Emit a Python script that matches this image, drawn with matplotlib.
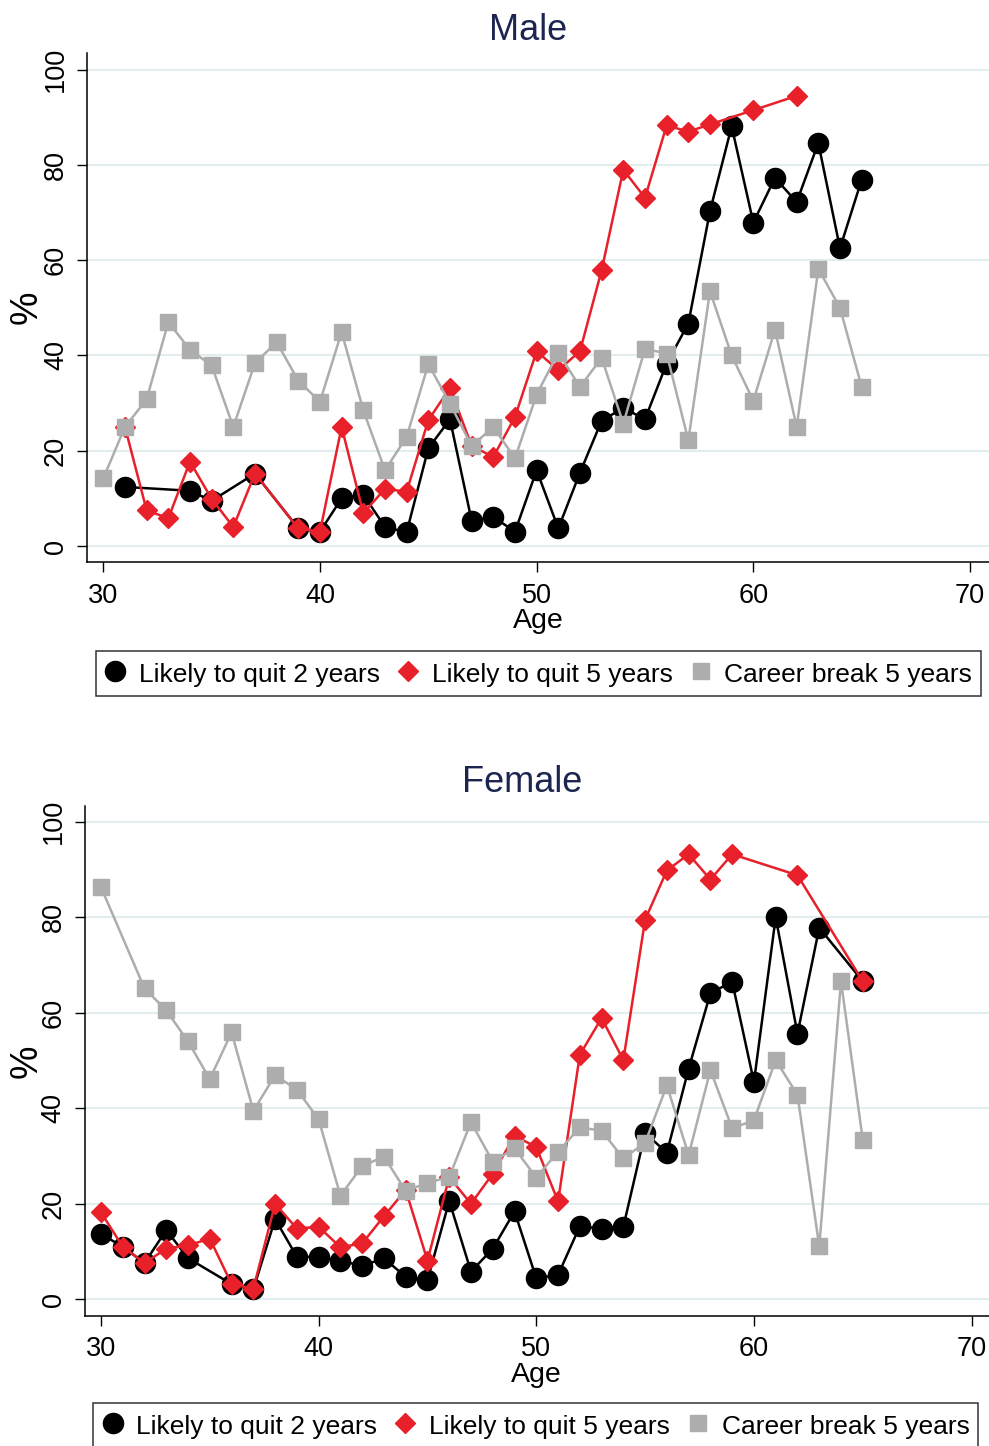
import matplotlib
matplotlib.use("Agg")
import matplotlib.pyplot as plt
from matplotlib.lines import Line2D

# ==============================
# Datos
# ==============================
male_q2_age = [31, 34, 35, 37, 39, 40, 41, 42, 43, 44, 45, 46, 47, 48, 49,
               50, 51, 52, 53, 54, 55, 56, 57, 58, 59, 60, 61, 62, 63, 64, 65]
male_q2 = [12.4, 11.6, 9.5, 15.2, 3.7, 3.0, 10.0, 10.8, 4.0, 2.9, 20.5, 26.6, 5.3, 6.1, 3.0,
           15.9, 3.7, 15.4, 26.3, 29.0, 26.6, 38.3, 46.7, 70.3, 88.1, 67.9, 77.3, 72.2, 84.6, 62.5, 76.9]

male_q5_age = [31, 32, 33, 34, 35, 36, 37, 39, 40, 41, 42, 43, 44, 45, 46, 47, 48, 49,
               50, 51, 52, 53, 54, 55, 56, 57, 58, 60, 62]
male_q5 = [25.0, 7.5, 5.8, 17.7, 9.9, 4.0, 15.2, 3.7, 3.0, 25.0, 6.9, 12.0, 11.4, 26.4, 33.2, 21.0, 18.7, 27.1,
           40.9, 36.9, 40.9, 57.9, 79.0, 73.1, 88.3, 87.0, 88.5, 91.5, 94.5]

male_cb_age = list(range(30, 66))
male_cb = [14.2, 25.0, 30.8, 47.0, 41.2, 37.9, 25.0, 38.4, 42.8, 34.7,
           30.3, 44.9, 28.5, 15.9, 22.9, 38.2, 29.9, 21.0, 25.0, 18.4,
           31.8, 40.6, 33.4, 39.5, 25.7, 41.4, 40.4, 22.2, 53.5, 40.0,
           30.5, 45.4, 25.0, 58.2, 50.0, 33.4]

fem_q2_age = [30, 31, 32, 33, 34, 36, 37, 38, 39, 40, 41, 42, 43, 44, 45, 46, 47, 48, 49,
              50, 51, 52, 53, 54, 55, 56, 57, 58, 59, 60, 61, 62, 63, 65]
fem_q2 = [13.7, 11.0, 7.6, 14.5, 8.6, 3.2, 2.1, 16.8, 8.9, 8.9, 8.1, 7.0, 8.6, 4.7, 4.0, 20.6, 5.8, 10.6, 18.4,
          4.4, 5.1, 15.3, 14.8, 15.2, 34.8, 30.7, 48.3, 64.1, 66.5, 45.5, 80.0, 55.6, 77.8, 66.6]

fem_q5_age = list(range(30, 60)) + [62, 65]
fem_q5 = [18.2, 11.0, 7.6, 10.6, 11.3, 12.7, 3.2, 2.2, 20.0, 14.8,
          15.2, 10.9, 11.7, 17.4, 22.9, 8.1, 25.6, 20.0, 26.3, 34.2,
          31.9, 20.5, 51.2, 58.9, 50.1, 79.5, 89.8, 93.2, 87.9, 93.2,
          88.8, 66.6]

fem_cb_age = [30] + list(range(32, 66))
fem_cb = [86.3, 65.1, 60.5, 54.0, 46.1, 55.9, 39.5, 46.9, 43.9,
          37.7, 21.7, 27.9, 29.9, 22.7, 24.4, 25.6, 37.1, 28.8, 31.6,
          25.5, 30.9, 36.0, 35.3, 29.5, 32.8, 44.8, 30.2, 48.0, 35.8,
          37.5, 50.1, 42.8, 11.1, 66.6, 33.4]

series_labels = ["Likely to quit 2 years", "Likely to quit 5 years", "Career break 5 years"]
x_ticks = [30, 40, 50, 60, 70]
y_ticks = [0, 20, 40, 60, 80, 100]

# ==============================
# Estilo
# ==============================
plt.rcParams['font.family'] = ['Liberation Sans', 'DejaVu Sans']
W, H = 989, 1446
NEGRO = '#000000'
ROJO = '#e8202a'
GRIS = '#adadad'
GRID = '#e3ecee'
TITULO = '#1b2550'

estilos = [
    dict(color=NEGRO, marker='o', ms=14.5, lw=1.8),
    dict(color=ROJO, marker='D', ms=10.3, lw=1.8),
    dict(color=GRIS, marker='s', ms=12, lw=1.8),
]

fig = plt.figure(figsize=(W / 100, H / 100), dpi=100)


def pix_ax(left, right, top, bottom):
    return fig.add_axes([left / W, 1 - bottom / H, (right - left) / W, (bottom - top) / H])


def panel(ax, datos, titulo, xlim, ylim, box, title_xy, legend_xy):
    left, right, top, bottom = box
    for (edad, val), st in zip(datos, estilos):
        ax.plot(edad, val, color=st['color'], lw=st['lw'], marker=st['marker'],
                ms=st['ms'], mec=st['color'], mfc=st['color'], zorder=3)
    ax.set_xlim(*xlim)
    ax.set_ylim(*ylim)
    ax.set_xticks(x_ticks)
    ax.set_yticks(y_ticks)
    ax.grid(axis='y', color=GRID, lw=1.5, zorder=0)
    ax.set_axisbelow(True)
    for s in ['top', 'right']:
        ax.spines[s].set_visible(False)
    for s in ['left', 'bottom']:
        ax.spines[s].set_linewidth(1.1)
    ax.tick_params(axis='both', direction='out', length=7.3, width=1.0, labelsize=19.5)
    ax.tick_params(axis='x', pad=7.5)
    ax.tick_params(axis='y', pad=5.5)
    plt.setp(ax.get_yticklabels(), rotation=90, va='center')

    fig.text(title_xy[0] / W, 1 - title_xy[1] / H, titulo, ha='center', va='center',
             fontsize=26, color=TITULO)
    fig.text(26.7 / W, 1 - (top + bottom) / 2 / H, '%', rotation=90, ha='center', va='center',
             fontsize=27)
    fig.text((left + right) / 2 / W, 1 - (bottom + 59) / H, 'Age', ha='center', va='center',
             fontsize=20.5)

    handles = [Line2D([], [], ls='none', marker=st['marker'], color=st['color'],
                      ms=st['ms']) for st in estilos]
    lx, ly, lw_ = legend_xy
    leg = fig.legend(handles, series_labels, loc='upper left',
                     bbox_to_anchor=(lx / W, 1 - ly / H, lw_ / W, 0),
                     bbox_transform=fig.transFigure, mode='expand', ncol=3,
                     fontsize=19, frameon=True, fancybox=False, edgecolor='black',
                     borderpad=0.33, handlelength=0.8, handleheight=1.2,
                     handletextpad=0.5, borderaxespad=0, columnspacing=0.5)
    leg.get_frame().set_linewidth(1.1)


# ==========================================
# Panel Male
# ==========================================
ax1 = pix_ax(86.7, 989, 53, 562.3)
panel(ax1,
      [(male_q2_age, male_q2), (male_q5_age, male_q5), (male_cb_age, male_cb)],
      'Male', (29.234, 70.877), (-3.42, 103.5), (86.7, 989, 53, 562.3),
      (528, 30), (96, 650.7, 885))

# ==========================================
# Panel Female
# ==========================================
ax2 = pix_ax(84.5, 989, 806, 1315.7)
panel(ax2,
      [(fem_q2_age, fem_q2), (fem_q5_age, fem_q5), (fem_cb_age, fem_cb)],
      'Female', (29.242, 70.8), (-3.43, 103.3), (84.5, 989, 806, 1315.7),
      (522, 783), (93.4, 1403.3, 885))

fig.savefig('out.png', dpi=100)
